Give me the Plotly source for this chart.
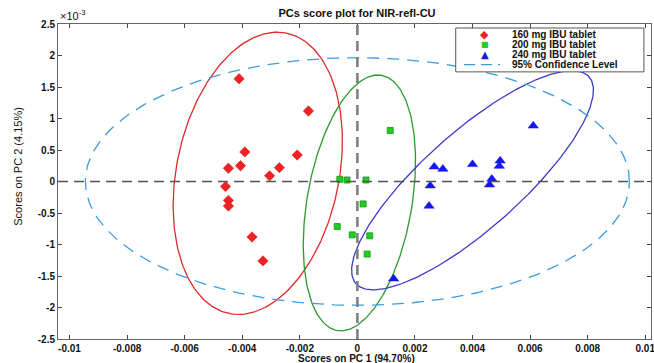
import numpy as np
import plotly.graph_objects as go

# ---------------- data (PC1 in raw units, PC2 in units of 1e-3) ----------------
red_pc1 = [-0.00411, -0.00170, -0.00391, -0.00209, -0.00448, -0.00406, -0.00271,
           -0.00305, -0.00458, -0.00448, -0.00448, -0.00366, -0.00328]
red_pc2 = [1.63, 1.12, 0.47, 0.42, 0.21, 0.25, 0.22, 0.09, -0.08, -0.30, -0.39, -0.88, -1.26]

green_pc1 = [0.00114, -0.00061, -0.00036, 0.00030, 0.00020, -0.00070, -0.00018, 0.00043, 0.00034]
green_pc2 = [0.81, 0.035, 0.024, 0.024, -0.356, -0.715, -0.847, -0.862, -1.152]

blue_pc1 = [0.00611, 0.00267, 0.00297, 0.00400, 0.00496, 0.00493, 0.00467, 0.00459,
            0.00253, 0.00249, 0.00126]
blue_pc2 = [0.883, 0.234, 0.198, 0.272, 0.329, 0.245, 0.040, -0.051, -0.066, -0.388, -1.543]

group_names = ["160 mg IBU tablet", "200 mg IBU tablet", "240 mg IBU tablet"]
conf_name = "95% Confidence Level"

# ellipse parameters: centre (pc1 e-3, pc2 e-3), x half-extent, y half-extent, x-shift of top point (all e-3)
ell_red = dict(cx=-3.46, cy=0.13, hx=2.94, hy=2.24, top=0.67)
ell_green = dict(cx=0.07, cy=-0.34, hx=1.95, hy=2.03, top=0.64)
ell_blue = dict(cx=4.00, cy=0.02, hx=4.20, hy=1.74, top=3.45)
ell_conf = dict(cx=0.0, cy=0.0, hx=9.45, hy=1.965, top=0.0)

x_ticks = [-0.01, -0.008, -0.006, -0.004, -0.002, 0, 0.002, 0.004, 0.006, 0.008, 0.01]
x_ticktext = ["-0.01", "-0.008", "-0.006", "-0.004", "-0.002", "0", "0.002", "0.004", "0.006", "0.008", "0.01"]
y_ticks = [-2.5, -2, -1.5, -1, -0.5, 0, 0.5, 1, 1.5, 2, 2.5]
y_ticktext = ["-2.5", "-2", "-1.5", "-1", "-0.5", "0", "0.5", "1", "1.5", "2", "2.5"]

title_text = "PCs score plot for NIR-refl-CU"
xlab = "Scores on PC 1 (94.70%)"
ylab = "Scores on PC 2 (4.15%)"

RED = "#ee2222"
GREEN = "#22cc22"
BLUE = "#1515ee"
C_RED_E = "#dd2a2a"
C_GREEN_E = "#2a9a2a"
C_BLUE_E = "#3a3ad0"
C_CONF = "#3b9ddd"
FONT = "Liberation Sans, Arial, sans-serif"
TXT = "#111111"


def ellipse(p, n=240):
    t = np.linspace(0, 2 * np.pi, n)
    a12 = p["top"]
    a11 = np.sqrt(max(p["hx"] ** 2 - a12 ** 2, 0))
    x = p["cx"] + a11 * np.cos(t) + a12 * np.sin(t)
    y = p["cy"] + p["hy"] * np.sin(t)
    return x * 1e-3, y


fig = go.Figure()

for p, col, dash in [(ell_red, C_RED_E, "solid"), (ell_green, C_GREEN_E, "solid"),
                     (ell_blue, C_BLUE_E, "solid"), (ell_conf, C_CONF, "12px,8px")]:
    ex, ey = ellipse(p)
    fig.add_trace(go.Scatter(x=ex, y=ey, mode="lines", line=dict(color=col, width=1.3, dash=dash),
                             showlegend=False, hoverinfo="skip"))

fig.add_trace(go.Scatter(x=red_pc1, y=red_pc2, mode="markers", name=group_names[0],
                         marker=dict(symbol="diamond", size=8, color=RED, line=dict(color="#dd1111", width=0.5))))
fig.add_trace(go.Scatter(x=green_pc1, y=green_pc2, mode="markers", name=group_names[1],
                         marker=dict(symbol="square", size=6, color=GREEN, line=dict(color="#119911", width=0.8))))
fig.add_trace(go.Scatter(x=blue_pc1, y=blue_pc2, mode="markers", name=group_names[2],
                         marker=dict(symbol="triangle-up", size=9, color=BLUE, line=dict(color=BLUE, width=0.5))))

# zero reference lines
fig.add_shape(type="line", xref="paper", yref="y", x0=0, x1=1, y0=0, y1=0,
              line=dict(color="#555555", width=1.4, dash="10px,6px"), layer="above")
fig.add_shape(type="line", xref="x", yref="paper", x0=0, x1=0, y0=0, y1=1,
              line=dict(color="#808080", width=2.6, dash="10px,6px"), layer="above")

# ---------------- compact legend box (drawn in paper coordinates) ----------------
lg_x0, lg_x1, lg_y0, lg_y1 = 0.6707, 0.988, 0.848, 0.9873
fig.add_shape(type="rect", xref="paper", yref="paper", x0=lg_x0, x1=lg_x1, y0=lg_y0, y1=lg_y1,
              line=dict(color="#555555", width=1), fillcolor="white", layer="above")
rows = [0.967, 0.935, 0.903, 0.871]
mk_x = 0.72
fig.add_shape(type="line", xref="paper", yref="paper", x0=0.6847, x1=0.7454, y0=rows[3], y1=rows[3],
              line=dict(color=C_CONF, width=1.3, dash="11px,6px"), layer="above")
for r, g, col, sz in zip(rows[:3], ["◆", "■", "▲"], [RED, GREEN, BLUE], [11, 8, 10]):
    fig.add_annotation(x=mk_x, y=r, xref="paper", yref="paper", text=g, showarrow=False,
                       xanchor="center", yanchor="middle",
                       font=dict(family="DejaVu Sans", size=sz, color=col))
for r, txt in zip(rows, group_names + [conf_name]):
    fig.add_annotation(x=0.762, y=r, xref="paper", yref="paper", text="<b>%s</b>" % txt,
                       showarrow=False, xanchor="left", yanchor="middle",
                       font=dict(family=FONT, size=10, color=TXT))

# axis titles and exponent
fig.add_annotation(x=0.504, y=-0.062, xref="paper", yref="paper", text="<b>%s</b>" % xlab, showarrow=False,
                   xanchor="center", yanchor="middle", font=dict(family=FONT, size=10, color=TXT))
fig.add_annotation(x=-0.0675, y=0.55, xref="paper", yref="paper", text=ylab, showarrow=False, textangle=-90,
                   xanchor="center", yanchor="middle", font=dict(family=FONT, size=11, color=TXT))
fig.add_annotation(x=0.0, y=1.0, xref="paper", yref="paper", text="×10<sup>-3</sup>", showarrow=False,
                   xanchor="left", yanchor="bottom", font=dict(family=FONT, size=11, color=TXT))

axis_common = dict(showgrid=False, zeroline=False, showline=True, linecolor="#666666", linewidth=1,
                   mirror="ticks", ticks="inside", ticklen=4, tickcolor="#444444", automargin=False,
                   tickfont=dict(family=FONT, size=10, color=TXT))

fig.update_layout(
    width=654, height=363,
    margin=dict(l=58, r=3, t=24, b=24, autoexpand=False),
    paper_bgcolor="white", plot_bgcolor="white",
    title=dict(text="<b>%s</b>" % title_text, x=357 / 654, xanchor="center", y=1 - 13 / 363,
               yanchor="middle", yref="container", font=dict(family=FONT, size=11, color=TXT)),
    xaxis=dict(range=[-0.0104, 0.0102], tickvals=x_ticks, ticklabeloverflow="allow",
               ticktext=["<b>%s</b>" % t for t in x_ticktext], **axis_common),
    yaxis=dict(range=[-2.5, 2.5], tickvals=y_ticks,
               ticktext=["<b>%s</b>" % t for t in y_ticktext], **axis_common),
    showlegend=False,
)

fig.write_html("out.html")
